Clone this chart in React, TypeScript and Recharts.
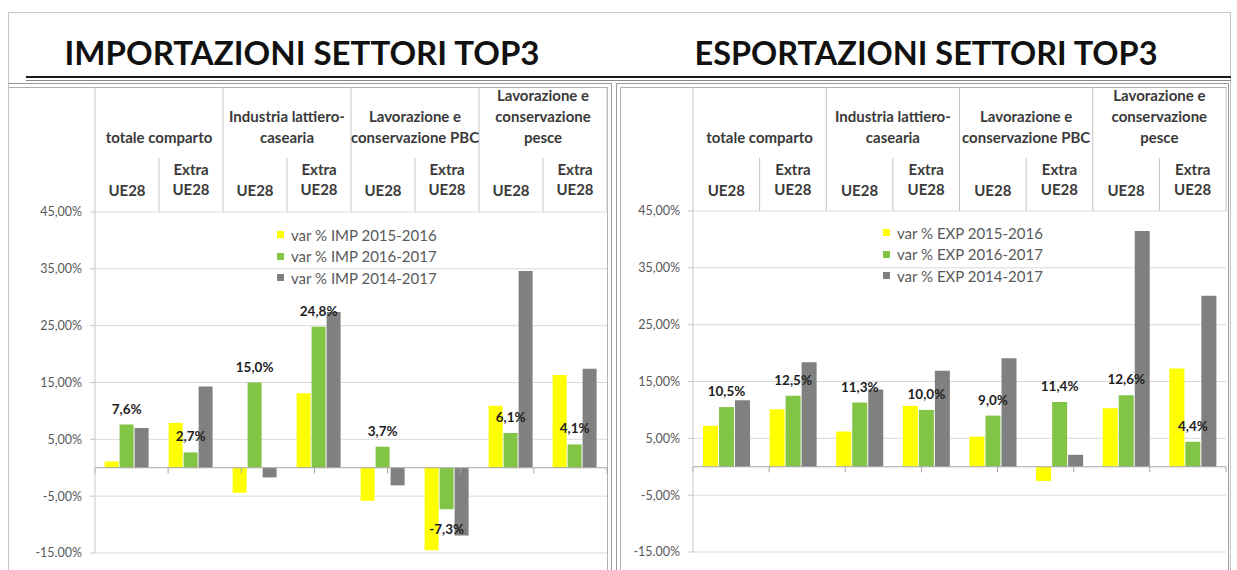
import { Bar, BarChart, CartesianGrid, LabelList, Legend, ReferenceLine, XAxis, YAxis } from "recharts";

const categories = [
  "totale comparto UE28",
  "totale comparto Extra UE28",
  "Industria lattiero-casearia UE28",
  "Industria lattiero-casearia Extra UE28",
  "Lavorazione e conservazione PBC UE28",
  "Lavorazione e conservazione PBC Extra UE28",
  "Lavorazione e conservazione pesce UE28",
  "Lavorazione e conservazione pesce Extra UE28",
];

const groupLabels = [
  ["totale comparto"],
  ["Industria lattiero-", "casearia"],
  ["Lavorazione e", "conservazione PBC"],
  ["Lavorazione e", "conservazione", "pesce"],
];
const subLabels = [["UE28"], ["Extra", "UE28"]];

const impNames = ["var % IMP 2015-2016", "var % IMP 2016-2017", "var % IMP 2014-2017"];
const imp1516 = [1.1, 7.9, -4.4, 13.1, -5.8, -14.5, 10.9, 16.3];
const imp1617 = [7.6, 2.7, 15.0, 24.8, 3.7, -7.3, 6.1, 4.1];
const imp1417 = [7.0, 14.3, -1.7, 27.4, -3.1, -11.9, 34.6, 17.4];

const expNames = ["var % EXP 2015-2016", "var % EXP 2016-2017", "var % EXP 2014-2017"];
const exp1516 = [7.2, 10.1, 6.2, 10.7, 5.3, -2.5, 10.3, 17.3];
const exp1617 = [10.5, 12.5, 11.3, 10.0, 9.0, 11.4, 12.6, 4.4];
const exp1417 = [11.7, 18.4, 13.6, 16.9, 19.1, 2.1, 41.5, 30.1];

const yTicks = [-15, -5, 5, 15, 25, 35, 45];
const yTickLabels = ["-15.00%", "-5,00%", "5,00%", "15,00%", "25,00%", "35,00%", "45,00%"];

const colors = ["#FFFF00", "#82C446", "#808080"];
const font = "Lato, 'Open Sans', sans-serif";

const fmt = (v: number) => `${v.toFixed(1).replace(".", ",")}%`;

function GreenLabel(props: any) {
  const { x, y, width, height, value } = props;
  const top = Math.min(y, y + height);
  const bottom = Math.max(y, y + height);
  const ty = value >= 0 ? top - 16 : bottom + 20;
  return (
    <text x={x + width / 2} y={ty} textAnchor="middle" dominantBaseline="central" fontFamily={font} fontWeight={700} fontSize={13.5} fill="#1e1e1e">
      {fmt(value)}
    </text>
  );
}

// legend drawn in series order (payload order from recharts is not reliable here)
function LegendBox({ names }: { names: string[] }) {
  return (
    <div style={{ fontFamily: font, fontSize: 15, color: "#595959" }}>
      {names.map((n, i) => (
        <div key={n} style={{ display: "flex", alignItems: "center", height: 21.5, whiteSpace: "nowrap" }}>
          <span style={{ width: 7, height: 7, background: colors[i], marginRight: 7, display: "inline-block" }} />
          {n}
        </div>
      ))}
    </div>
  );
}

type PanelProps = {
  left: number;
  width: number;
  margin: { top: number; right: number; bottom: number; left: number };
  series: number[][];
  names: string[];
  legendLeft: number;
  legendTop: number;
};

function Panel({ left, width, margin, series, names, legendLeft, legendTop }: PanelProps) {
  const data = categories.map((c, i) => ({ name: c, a: series[0][i], b: series[1][i], c: series[2][i] }));
  const boundaries = categories.map((_, i) => i).concat(categories.length);
  return (
    <div style={{ position: "absolute", left, top: 0 }}>
      <BarChart width={width} height={570} data={data} margin={margin} barCategoryGap="15%" barGap={1}>
        <CartesianGrid vertical={false} stroke="#d9d9d9" />
        <XAxis dataKey="name" hide />
        <XAxis xAxisId="n" type="number" domain={[0, categories.length]} hide allowDataOverflow />
        <YAxis
          type="number"
          domain={[-15, 45]}
          ticks={yTicks}
          interval={0}
          allowDataOverflow
          width={60}
          tickSize={5}
          tickMargin={8}
          axisLine={{ stroke: "#c8c8c8" }}
          tickLine={{ stroke: "#c8c8c8" }}
          tick={{ fill: "#595959", fontSize: 12.5, fontFamily: font }}
          tickFormatter={(v: number) => yTickLabels[yTicks.indexOf(v)]}
        />
        <ReferenceLine y={0} stroke="#a6a6a6" />
        {boundaries.map((k) => (
          <ReferenceLine
            key={k}
            xAxisId="n"
            segment={[
              { x: k, y: 0 },
              { x: k, y: -1 },
            ]}
            stroke="#a6a6a6"
            ifOverflow="visible"
          />
        ))}
        <Legend
          layout="vertical"
          align="center"
          verticalAlign="middle"
          wrapperStyle={{ left: legendLeft, top: legendTop, width: 200 }}
          content={<LegendBox names={names} />}
        />
        <Bar dataKey="a" name={names[0]} fill={colors[0]} isAnimationActive={false} />
        <Bar dataKey="b" name={names[1]} fill={colors[1]} isAnimationActive={false}>
          <LabelList dataKey="b" content={<GreenLabel />} />
        </Bar>
        <Bar dataKey="c" name={names[2]} fill={colors[2]} isAnimationActive={false} />
      </BarChart>
    </div>
  );
}

function Header({ plotLeft, plotRight, plotTop }: { plotLeft: number; plotRight: number; plotTop: number }) {
  const cw = (plotRight - plotLeft) / categories.length;
  const lines = [];
  for (let i = 0; i <= categories.length; i++) {
    const x = plotLeft + i * cw;
    lines.push(<line key={`v${i}`} x1={x} x2={x} y1={i % 2 === 0 ? 87 : 158} y2={plotTop} stroke="#c4c4c4" />);
  }
  return (
    <g fontFamily={font} fontWeight={700} fontSize={15} fill="#3a3a3a" textAnchor="middle">
      {lines}
      {groupLabels.map((g, gi) => {
        const cx = plotLeft + (gi * 2 + 1) * cw;
        return g.map((t, li) => (
          <text key={`g${gi}-${li}`} x={cx} y={137 - (g.length - 1 - li) * 21} dominantBaseline="central">
            {t}
          </text>
        ));
      })}
      {categories.map((_, ci) => {
        const cx = plotLeft + (ci + 0.5) * cw;
        const s = subLabels[ci % 2];
        return s.map((t, li) => (
          <text key={`s${ci}-${li}`} x={cx} y={s.length === 1 ? 190 : 169 + li * 19.5} dominantBaseline="central">
            {t}
          </text>
        ));
      })}
    </g>
  );
}

export default function App() {
  return (
    <div style={{ position: "relative", width: 1237, height: 570, background: "#ffffff", overflow: "hidden" }}>
      <style>{`body{margin:0}`}</style>
      <svg width={1237} height={570} style={{ position: "absolute", left: 0, top: 0 }}>
        <rect x={8.5} y={12.5} width={1222} height={570} fill="none" stroke="#c6c6c6" />
        <text x={302} y={65} textAnchor="middle" fontFamily={font} fontWeight={700} fontSize={33} fill="#111" textLength={475} lengthAdjust="spacingAndGlyphs">
          IMPORTAZIONI SETTORI TOP3
        </text>
        <text x={926} y={65} textAnchor="middle" fontFamily={font} fontWeight={700} fontSize={33} fill="#111" textLength={463} lengthAdjust="spacingAndGlyphs">
          ESPORTAZIONI SETTORI TOP3
        </text>
        <line x1={26} x2={1231} y1={77} y2={77} stroke="#1a1a1a" strokeWidth={2} />
        <line x1={26} x2={1231} y1={80.5} y2={80.5} stroke="#8a8a8a" />
        {/* left panel double border */}
        <polyline points="8.5,83.5 611.5,83.5 611.5,570" fill="none" stroke="#9a9a9a" />
        <polyline points="8.5,87.5 607.5,87.5 607.5,570" fill="none" stroke="#b0b0b0" />
        {/* right panel double border */}
        <polyline points="616.5,570 616.5,83.5 1228.5,83.5 1228.5,570" fill="none" stroke="#9a9a9a" />
        <polyline points="620.5,570 620.5,87.5 1226.5,87.5" fill="none" stroke="#b0b0b0" />
        <Header plotLeft={95} plotRight={607} plotTop={212} />
        <Header plotLeft={693} plotRight={1226} plotTop={211} />
      </svg>
      <Panel
        left={0}
        width={620}
        margin={{ top: 212, right: 13, bottom: 17, left: 35 }}
        series={[imp1516, imp1617, imp1417]}
        names={impNames}
        legendLeft={277}
        legendTop={224}
      />
      <Panel
        left={620}
        width={617}
        margin={{ top: 211, right: 11, bottom: 18, left: 13 }}
        series={[exp1516, exp1617, exp1417]}
        names={expNames}
        legendLeft={263}
        legendTop={222}
      />
    </div>
  );
}
